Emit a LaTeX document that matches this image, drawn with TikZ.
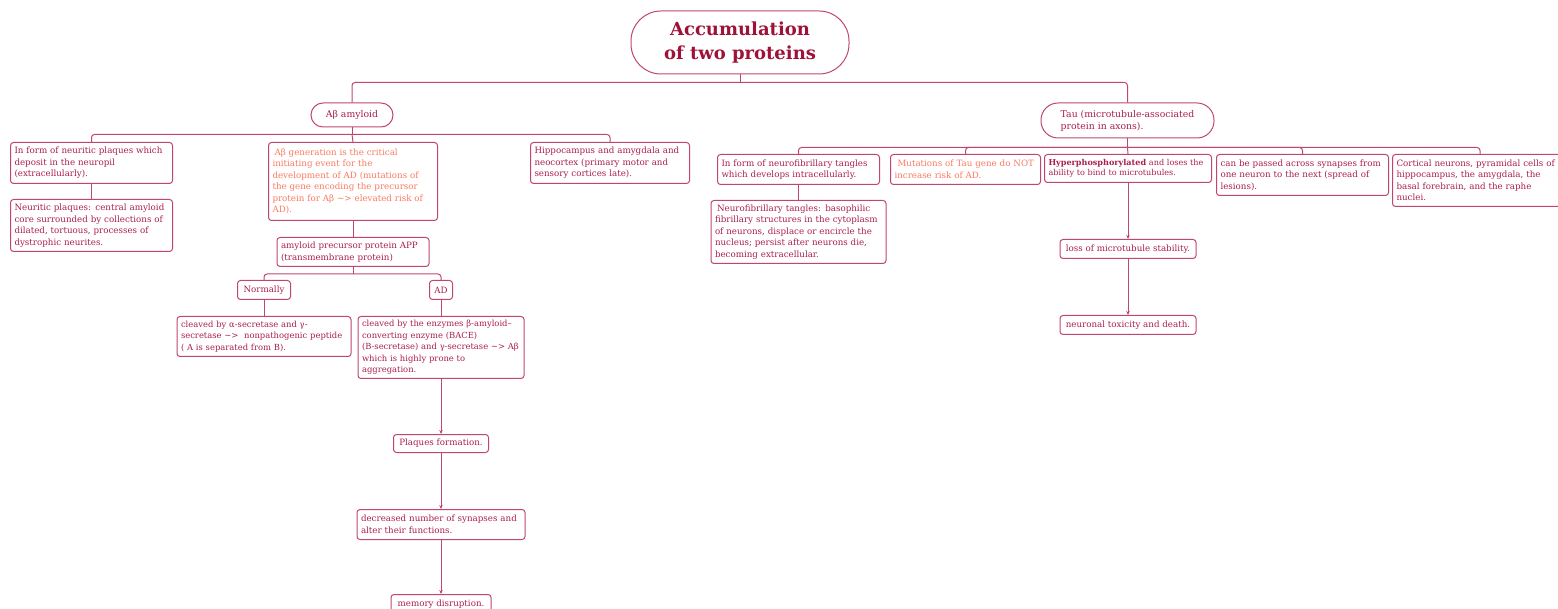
\documentclass[tikz,border=0pt]{standalone}
\usepackage{fontspec}
\setmainfont{DejaVu Serif}
\usetikzlibrary{positioning,arrows.meta}

\definecolor{linecol}{RGB}{192,70,112}
\definecolor{textcol}{RGB}{170,30,78}
\definecolor{titlecol}{RGB}{158,18,58}
\definecolor{orng}{RGB}{250,122,96}

\begin{document}
\begin{tikzpicture}[x=1pt, y=-1pt, >={Stealth[length=4pt,width=3.5pt]},
    box/.style = {draw=linecol, line width=1pt, rounded corners=3pt, fill=white, text=textcol,
                  font=\fontsize{8.7}{11.5}\selectfont, align=left, inner xsep=4pt, inner ysep=2pt},
    pill/.style = {box, font=\fontsize{9.3}{12}\selectfont, rounded corners=12pt, align=center},
    link/.style = {draw=linecol, line width=1pt, rounded corners=3pt},
    arr/.style = {link, ->}]

    \useasboundingbox (0,0) rectangle (1558,609);

    % root and the two branches
    \node[pill, font=\bfseries\fontsize{18}{24}\selectfont, text=titlecol, rounded corners=30pt,
          minimum width=218pt, minimum height=63pt] (top) at (740,42.5) {Accumulation\\of two proteins};
    \node[pill, minimum width=82pt, minimum height=24pt] (ab) at (352,115) {Aβ amyloid};
    \node[pill, align=left, rounded corners=17pt, minimum width=173pt, minimum height=35pt] (tau) at (1127.5,120.5)
        {Tau (microtubule-associated\\protein in axons).};

    % A-beta side
    \node[box, anchor=north west, text width=154pt, minimum height=41pt] (a1) at (10,142)
        {In form of neuritic plaques which\\deposit in the neuropil\\(extracellularly).};
    \node[box, anchor=north west, text width=161pt, minimum height=78pt, text=orng] (a2) at (268,142)
        {\hspace*{2pt}Aβ generation is the critical\\initiating event for the\\development of AD (mutations of\\the gene encoding the precursor\\protein for Aβ \textasciitilde{}> elevated risk of\\AD).};
    \node[box, anchor=north west, text width=151pt, minimum height=41pt] (a3) at (530,142)
        {Hippocampus and amygdala and\\neocortex (primary motor and\\sensory cortices late).};
    \node[box, below=15pt of a1, text width=154pt, minimum height=52pt] (a1b)
        {Neuritic plaques: central amyloid\\core surrounded by collections of\\dilated, tortuous, processes of\\dystrophic neurites.};
    \node[box, below=16pt of a2, text width=144pt, minimum height=29pt] (app)
        {amyloid precursor protein APP\\(transmembrane protein)};
    \node[box, anchor=north, minimum width=53pt, minimum height=19pt] (nrm) at (264,280) {Normally};
    \node[box, anchor=north, minimum width=23pt, minimum height=19pt] (ad) at (441,280) {AD};
    \node[box, below=16pt of nrm, text width=166pt, minimum height=40pt, font=\fontsize{8.4}{11.5}\selectfont] (nrm2)
        {cleaved by α-secretase and γ-\\\mbox{secretase \textasciitilde{}>\ \ nonpathogenic peptide}\\( A is separated from B).};
    \node[box, below=16pt of ad, text width=158pt, minimum height=62pt, font=\fontsize{8.4}{11.5}\selectfont] (ad2)
        {cleaved by the enzymes β-amyloid–\\converting enzyme (BACE)\\\mbox{(B-secretase) and γ-secretase \textasciitilde{}> Aβ}\\which is highly prone to\\aggregation.};
    \node[box, below=55pt of ad2, minimum width=95pt, minimum height=18pt] (plq) {Plaques formation.};
    \node[box, below=56pt of plq, text width=160pt, minimum height=30pt] (syn)
        {decreased number of synapses and\\alter their functions.};
    \node[box, below=54pt of syn, minimum width=100pt, minimum height=19pt] (mem) {memory disruption.};

    % Tau side
    \node[box, anchor=north west, text width=154pt, minimum height=30pt] (t1) at (717,154)
        {In form of neurofibrillary tangles\\which develops intracellularly.};
    \node[box, anchor=north west, text width=142pt, minimum height=30pt, text=orng] (t2) at (890,154)
        {\hspace*{3pt}Mutations of Tau gene do NOT\\increase risk of AD.};
    \node[box, anchor=north west, text width=159pt, minimum height=28pt, font=\fontsize{8.1}{10.5}\selectfont] (t3) at (1044,154)
        {\mbox{\textbf{Hyperphosphorylated} and loses the}\\ability to bind to microtubules.};
    \node[box, anchor=north west, text width=164pt, minimum height=41pt] (t4) at (1216,154)
        {can be passed across synapses from\\one neuron to the next (spread of\\lesions).};
    \node[box, anchor=north west, text width=167pt, minimum height=52pt] (t5) at (1392,154)
        {Cortical neurons, pyramidal cells of\\hippocampus, the amygdala, the\\basal forebrain, and the raphe\\nuclei.};
    \node[box, below=15pt of t1, text width=167pt, minimum height=63pt] (t1b)
        {\hspace*{2pt}Neurofibrillary tangles: basophilic\\fibrillary structures in the cytoplasm\\of neurons, displace or encircle the\\nucleus; persist after neurons die,\\becoming extracellular.};
    \node[box, below=56pt of t3, minimum width=136pt, minimum height=19pt] (loss) {loss of microtubule stability.};
    \node[box, below=56pt of loss, minimum width=136pt, minimum height=19pt] (tox) {neuronal toxicity and death.};

    % bus lines
    \draw[link] (top.south) -- ++(0,8) coordinate (topbus);
    \draw[link] (topbus) -| (ab.north);
    \draw[link] (topbus) -| (tau.north);

    \draw[link] (ab.south) -- ++(0,7) coordinate (abbus);
    \draw[link] (abbus) -| (a1.north);
    \draw[link] (abbus) -- (a2.north);
    \draw[link] (abbus) -| (a3.north);
    \draw[link] (a1) -- (a1b);
    \draw[link] (a2) -- (app);
    \draw[link] (app.south) -- ++(0,7) coordinate (appbus);
    \draw[link] (appbus) -| (nrm.north);
    \draw[link] (appbus) -| (ad.north);
    \draw[link] (nrm) -- (nrm2);
    \draw[link] (ad) -- (ad2);
    \draw[arr] (ad2) -- (plq);
    \draw[arr] (plq) -- (syn);
    \draw[arr] (syn) -- (mem);

    \draw[link] (tau.south) -- ++(0,9) coordinate (taubus);
    \draw[link] (taubus) -| (t1.north);
    \draw[link] (taubus) -| (t2.north);
    \draw[link] (taubus) -- (t3.north);
    \draw[link] (taubus) -| (t4.north);
    \draw[link] (taubus) -| (t5.north);
    \draw[link] (t1) -- (t1b);
    \draw[arr] (t3) -- (loss);
    \draw[arr] (loss) -- (tox);

\end{tikzpicture}
\end{document}
